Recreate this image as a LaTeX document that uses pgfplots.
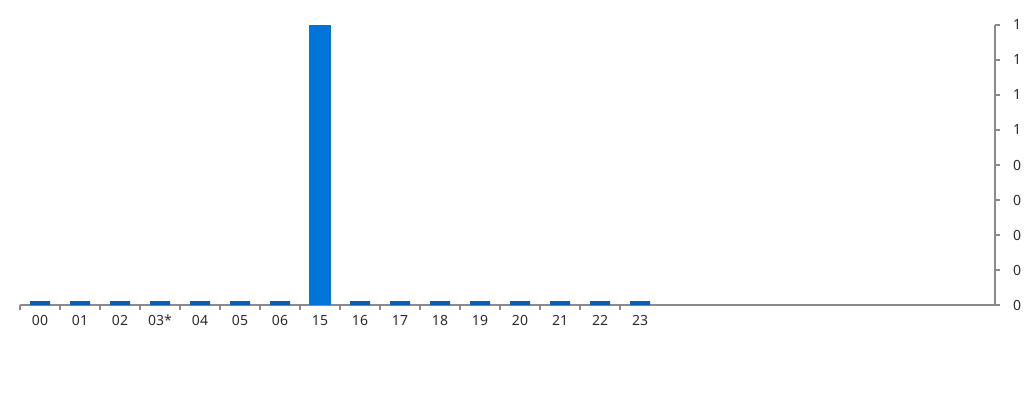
\documentclass[border=0pt]{standalone}
\usepackage{pgfplots}
\pgfplotsset{compat=1.18}
\usepackage{fontspec}
\setmainfont{Noto Sans}
\definecolor{barhi}{HTML}{0074D9}
\definecolor{barlo}{HTML}{0B5FB3}
\definecolor{axgray}{HTML}{8A8A8A}
\definecolor{txt}{HTML}{2B2B2B}
\begin{document}
\begin{tikzpicture}
  \path[use as bounding box] (0pt,0pt) rectangle (768pt,300pt);
  \begin{axis}[
      at={(15pt,71.25pt)}, anchor=south west,
      width=731.25pt, height=210pt, scale only axis,
      ybar, bar shift=0pt,
      xmin=-0.5, xmax=23.875,
      ymin=0, ymax=1,
      axis x line*=bottom,
      axis y line*=right,
      axis line style={draw=axgray, line width=1pt},
      x axis line style={-},
      y axis line style={-},
      % tick marks sit between categories, labels on the categories
      xtick={-0.5,0.5,...,14.5},
      xticklabels={},
      x tick style={draw=axgray, line width=0.8pt},
      extra x ticks={0,...,15},
      extra x tick labels={00,01,02,03*,04,05,06,15,16,17,18,19,20,21,22,23},
      extra x tick style={major tick length=0pt},
      ytick={0,0.125,...,1},
      yticklabels={0,0,0,0,0,1,1,1,1},
      y tick style={draw=axgray, line width=0.8pt},
      major tick length=4pt,
      tick align=outside,
      tick label style={font=\fontsize{10.5}{12}\selectfont, text=txt},
      xticklabel style={yshift=-4pt},
      yticklabel style={xshift=6pt},
      clip=false,
    ]
    \addplot[draw=none, fill=barlo, bar width=15pt] coordinates {
      (0,0.014) (1,0.014) (2,0.014) (3,0.014) (4,0.014) (5,0.014) (6,0.014)
      (8,0.014) (9,0.014) (10,0.014) (11,0.014) (12,0.014) (13,0.014)
      (14,0.014) (15,0.014)
    };
    \addplot[draw=none, fill=barhi, bar width=16.5pt] coordinates {
      (7,1)
    };
  \end{axis}
\end{tikzpicture}
\end{document}
